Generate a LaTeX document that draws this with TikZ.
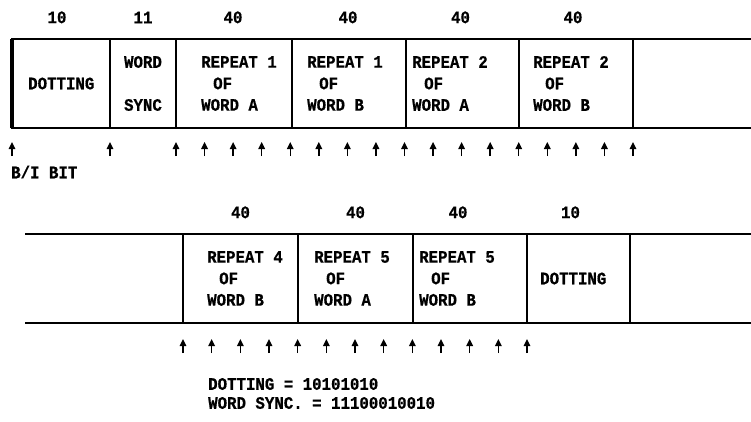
\documentclass[tikz,border=0pt]{standalone}
\usepackage{fontspec}
\newfontfamily\figfont{Liberation Mono}[FakeStretch=0.9, FakeBold=0.6]
\usetikzlibrary{positioning,arrows.meta}

\begin{document}
\begin{tikzpicture}[
  x=1pt, y=-1pt,
  field/.style = {draw, line width=1.3pt, minimum height=89pt, inner sep=0pt, outer sep=0pt},
  txt/.style   = {font=\figfont\bfseries\fontsize{17.5}{21.5}\selectfont, align=left, inner sep=0pt, anchor=west},
  cnt/.style   = {font=\figfont\bfseries\fontsize{17.5}{19}\selectfont, inner sep=0pt},
  rail/.style  = {line width=1.3pt},
  edge/.style  = {line width=3.2pt},
  bit/.style   = {-{Triangle[length=7pt,width=6.5pt]}, line width=1.4pt}
]
\useasboundingbox (0,0) rectangle (751,421);

% ================= upper frame =================
\node[field, minimum width=98pt, anchor=north west] (dot1) at (12,39) {};
\node[field, minimum width=66pt,  right=0pt of dot1] (sync) {};
\node[field, minimum width=116pt, right=0pt of sync] (r1a)  {};
\node[field, minimum width=114pt, right=0pt of r1a]  (r1b)  {};
\node[field, minimum width=113pt, right=0pt of r1b]  (r2a)  {};
\node[field, minimum width=114pt, right=0pt of r2a]  (r2b)  {};

\coordinate (topE1) at (751,39);
\coordinate (topE2) at (751,128);
\draw[rail] (r2b.north east) -- (topE1);
\draw[rail] (r2b.south east) -- (topE2);
\draw[edge] (dot1.north west) -- (dot1.south west);

\node[txt] (dot1t) at ([xshift=16pt]dot1.west) {DOTTING};
\node[txt, align=center, anchor=center] (synct) at (sync) {WORD\\[21.5pt]SYNC};
\node[txt] (r1at) at ([xshift=25pt]r1a.west) {REPEAT 1\\\hspace*{12pt}OF\\WORD A};
\node[txt] (r1bt) at ([xshift=15pt]r1b.west) {REPEAT 1\\\hspace*{12pt}OF\\WORD B};
\node[txt] (r2at) at ([xshift=6pt]r2a.west)  {REPEAT 2\\\hspace*{12pt}OF\\WORD A};
\node[txt] (r2bt) at ([xshift=14pt]r2b.west) {REPEAT 2\\\hspace*{12pt}OF\\WORD B};

\node[cnt, above=15.5pt of dot1, xshift=-4pt] (n1) {10};
\node[cnt, above=15.5pt of sync]               (n2) {11};
\node[cnt, above=15.5pt of r1a, xshift=-1pt]   (n3) {40};
\node[cnt, above=15.5pt of r1b, xshift=-1pt]   (n4) {40};
\node[cnt, above=15.5pt of r2a, xshift=-2pt]   (n5) {40};
\node[cnt, above=15.5pt of r2b, xshift=-3pt]   (n6) {40};

% bit markers
\foreach \x in {12,110}
  \draw[bit] (\x,156) -- ++(0,-14);
\foreach \i in {0,...,16}
  \draw[bit] ({176+28.5625*\i},156) -- ++(0,-14);
\node[cnt, anchor=west] (bibit) at (11,172) {B/I BIT};

% ================= lower frame =================
\node[field, minimum width=115pt, anchor=north west] (r4b) at (183,234) {};
\node[field, minimum width=115pt, right=0pt of r4b] (r5a)  {};
\node[field, minimum width=114pt, right=0pt of r5a] (r5b)  {};
\node[field, minimum width=103pt, right=0pt of r5b] (dot2) {};

\coordinate (lowW1) at (25,234);
\coordinate (lowW2) at (25,323);
\coordinate (lowE1) at (751,234);
\coordinate (lowE2) at (751,323);
\draw[rail] (lowW1) -- (r4b.north west);
\draw[rail] (lowW2) -- (r4b.south west);
\draw[rail] (dot2.north east) -- (lowE1);
\draw[rail] (dot2.south east) -- (lowE2);
\draw[line width=2.6pt] (r5b.north east) -- (r5b.south east);

\node[txt] (r4bt) at ([xshift=24pt]r4b.west) {REPEAT 4\\\hspace*{12pt}OF\\WORD B};
\node[txt] (r5at) at ([xshift=16pt]r5a.west) {REPEAT 5\\\hspace*{12pt}OF\\WORD A};
\node[txt] (r5bt) at ([xshift=6pt]r5b.west)  {REPEAT 5\\\hspace*{12pt}OF\\WORD B};
\node[txt] (dot2t) at ([xshift=13pt]dot2.west) {DOTTING};

\node[cnt, above=15.5pt of r4b]               (m1) {40};
\node[cnt, above=15.5pt of r5a]               (m2) {40};
\node[cnt, above=15.5pt of r5b, xshift=-12pt] (m3) {40};
\node[cnt, above=15.5pt of dot2, xshift=-8pt] (m4) {10};

\foreach \i in {0,...,12}
  \draw[bit] ({183+28.667*\i},353) -- ++(0,-14);

\node[cnt, align=left, anchor=west] (codes) at (208,393.5)
  {DOTTING = 10101010\\WORD SYNC. = 11100010010};

\end{tikzpicture}
\end{document}
